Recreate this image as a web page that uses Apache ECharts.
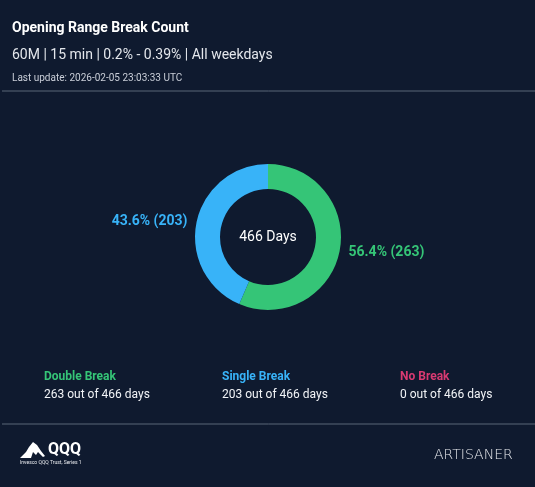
<!DOCTYPE html>
<html>
<head>
<meta charset="utf-8">
<script src="https://cdn.jsdelivr.net/npm/echarts@6/dist/echarts.min.js"></script>
<style>
  html, body { margin: 0; padding: 0; background: #0b1324; }
  #chart { width: 535px; height: 487px; }
</style>
</head>
<body>
<div id="chart"></div>
<script>
// data
const categories = ['Double Break', 'Single Break', 'No Break'];
const dayCounts = [263, 203, 0];
const totalDays = 466;
const sliceColors = ['#35c577', '#38b3f8', '#d93a72'];

const titleText = 'Opening Range Break Count';
const subtitleText = '60M | 15 min | 0.2% - 0.39% | All weekdays';
const updateText = 'Last update: 2026-02-05 23:03:33 UTC';

const FONT = 'Roboto, "Noto Sans", sans-serif';

const chart = echarts.init(document.getElementById('chart'), null, { renderer: 'canvas' });

// bottom summary blocks
const summary = [];
categories.forEach((name, i) => {
  const x = 44 + i * 178;
  summary.push({
    type: 'text', left: x, top: 371,
    style: { text: name, fill: sliceColors[i], font: 'bold 12px ' + FONT }
  });
  summary.push({
    type: 'text', left: x, top: 389,
    style: { text: dayCounts[i] + ' out of ' + totalDays + ' days', fill: '#f2f4f7', font: '12px ' + FONT }
  });
});

const option = {
  backgroundColor: '#0f1a2f',
  textStyle: { fontFamily: FONT },
  graphic: [
    { type: 'text', left: 12, top: 21, style: { text: titleText, fill: '#ffffff', font: 'bold 14px ' + FONT } },
    { type: 'text', left: 12, top: 48, style: { text: subtitleText, fill: '#e4e7ec', font: '14px ' + FONT } },
    { type: 'text', left: 12, top: 73, style: { text: updateText, fill: '#c9ced8', font: '10px ' + FONT } },
    { type: 'line', shape: { x1: 2, y1: 91, x2: 535, y2: 91 }, style: { stroke: '#5b6678', lineWidth: 1 } },
    { type: 'text', x: 268, y: 237, style: { text: totalDays + ' Days', fill: '#ffffff', font: '14px ' + FONT, textAlign: 'center', textVerticalAlign: 'middle' } },
    ...summary,
    { type: 'line', shape: { x1: 2, y1: 424, x2: 535, y2: 424 }, style: { stroke: '#5b6678', lineWidth: 1 } },
    // QQQ logo
    { type: 'polygon', shape: { points: [[20, 458], [26, 452], [29, 447], [33, 442], [37, 445], [41, 451], [45, 456], [43, 457], [38, 452], [36, 455], [33, 452], [31, 458]] }, style: { fill: '#ffffff' } },
    { type: 'text', left: 48, top: 442, style: { text: 'QQQ', fill: '#ffffff', font: 'bold 16px ' + FONT } },
    { type: 'text', left: 20, top: 460, style: { text: 'Invesco QQQ Trust, Series 1', fill: '#e8eaee', font: '5px ' + FONT } },
    { type: 'text', left: 434, top: 448, style: { text: 'ARTISANER', fill: '#e6e8ec', font: '200 14px "DejaVu Sans", ' + FONT } }
  ],
  series: [{
    type: 'pie',
    center: [268, 237],
    radius: [48, 73],
    startAngle: 90,
    clockwise: true,
    percentPrecision: 1,
    avoidLabelOverlap: false,
    silent: true,
    itemStyle: { borderWidth: 0 },
    label: {
      show: true,
      position: 'outside',
      formatter: '{d}% ({c})',
      fontSize: 14,
      fontWeight: 'bold',
      fontFamily: FONT
    },
    labelLine: { show: false, length: 2, length2: 2 },
    data: categories.map((name, i) => ({
      name: name,
      value: dayCounts[i],
      itemStyle: { color: sliceColors[i] },
      label: { show: dayCounts[i] > 0, color: sliceColors[i] }
    }))
  }]
};

chart.setOption(option);
</script>
</body>
</html>
